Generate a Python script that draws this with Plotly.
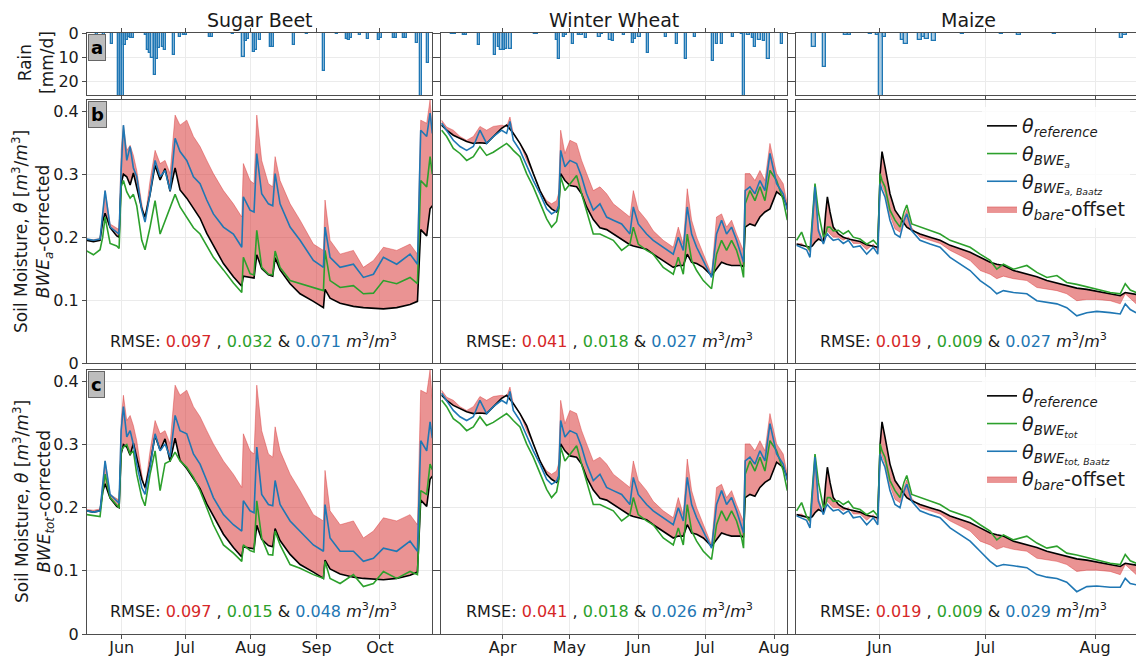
import plotly.graph_objects as go

YR = "2020"

# ---------------- Sugar Beet ----------------
beet_t = ["05-15 11:00","05-18 15:00","05-21 18:00","05-23 00:00","05-24 03:00","05-26 12:00","05-29 15:00","05-30 18:00","05-31 17:00","06-01 19:00",
          "06-03 09:00","06-04 23:00","06-06 12:00","06-08 02:00","06-10 11:00","06-12 00:00","06-14 09:00","06-16 18:00","06-19 03:00","06-21 11:00",
          "06-23 20:00","06-26 05:00","06-28 13:00","07-01 17:00","07-04 21:00","07-08 00:00","07-11 04:00","07-14 07:00","07-19 01:00","07-23 18:00",
          "07-27 17:00","07-28 11:00","07-31 15:00","08-02 12:00","08-03 19:00","08-06 03:00","08-09 07:00","08-11 08:00","08-12 11:00","08-14 19:00",
          "08-19 13:00","08-24 06:00","08-30 13:00","09-04 07:00","09-05 01:00","09-07 10:00","09-12 04:00","09-18 11:00","09-23 04:00","09-27 22:00",
          "10-02 15:00","10-08 22:00","10-15 05:00","10-18 17:00","10-20 06:00","10-23 02:00","10-24 16:00","10-25 18:00"]
beet_ref = [0.195,0.193,0.195,0.225,0.238,0.215,0.202,0.200,0.285,0.300,
            0.296,0.283,0.302,0.278,0.245,0.232,0.268,0.314,0.291,0.309,
            0.273,0.310,0.275,0.262,0.246,0.230,0.206,0.186,0.158,0.137,
            0.122,0.138,0.136,0.135,0.172,0.150,0.140,0.138,0.167,0.148,
            0.126,0.110,0.098,0.088,0.117,0.103,0.095,0.090,0.088,0.087,
            0.086,0.088,0.093,0.098,0.212,0.202,0.245,0.250]
beet_green_a = [0.178,0.172,0.180,0.200,0.232,0.190,0.186,0.182,0.280,0.290,
                0.272,0.262,0.268,0.250,0.195,0.180,0.216,0.258,0.205,0.225,
                0.245,0.268,0.248,0.232,0.215,0.205,0.186,0.168,0.148,0.127,
                0.112,0.168,0.142,0.140,0.211,0.152,0.141,0.140,0.178,0.152,
                0.131,0.126,0.120,0.115,0.179,0.131,0.120,0.123,0.110,0.111,
                0.131,0.126,0.136,0.126,0.290,0.280,0.328,0.300]
beet_blue_a = [0.197,0.195,0.197,0.240,0.274,0.216,0.207,0.205,0.306,0.378,
               0.322,0.344,0.310,0.296,0.243,0.224,0.269,0.322,0.296,0.306,
               0.274,0.357,0.336,0.322,0.296,0.285,0.259,0.237,0.216,0.205,
               0.184,0.264,0.243,0.240,0.333,0.269,0.253,0.250,0.301,0.253,
               0.216,0.195,0.163,0.152,0.216,0.168,0.152,0.157,0.136,0.141,
               0.168,0.157,0.173,0.157,0.370,0.360,0.397,0.365]
beet_bare = [0.197,0.196,0.198,0.245,0.274,0.221,0.215,0.212,0.338,0.378,
             0.338,0.346,0.330,0.306,0.253,0.229,0.290,0.338,0.317,0.322,
             0.301,0.394,0.378,0.386,0.360,0.344,0.322,0.301,0.274,0.253,
             0.232,0.317,0.290,0.285,0.394,0.322,0.285,0.280,0.328,0.290,
             0.253,0.227,0.189,0.179,0.259,0.195,0.173,0.179,0.152,0.163,
             0.184,0.179,0.189,0.173,0.386,0.381,0.418,0.370]
beet_green_tot = [0.189,0.187,0.186,0.225,0.253,0.216,0.205,0.200,0.290,0.296,
                  0.300,0.285,0.290,0.253,0.216,0.203,0.253,0.290,0.227,0.270,
                  0.274,0.288,0.274,0.264,0.248,0.227,0.200,0.173,0.141,0.128,
                  0.115,0.141,0.132,0.130,0.211,0.152,0.126,0.125,0.163,0.141,
                  0.110,0.104,0.094,0.088,0.115,0.088,0.080,0.094,0.075,0.080,
                  0.099,0.088,0.099,0.094,0.227,0.221,0.269,0.260]
beet_blue_tot = [0.195,0.193,0.195,0.240,0.274,0.221,0.210,0.207,0.322,0.360,
                 0.312,0.322,0.300,0.269,0.232,0.221,0.264,0.317,0.290,0.301,
                 0.280,0.346,0.322,0.317,0.285,0.269,0.243,0.216,0.189,0.173,
                 0.163,0.211,0.195,0.192,0.296,0.221,0.205,0.203,0.243,0.205,
                 0.179,0.163,0.141,0.131,0.205,0.152,0.131,0.131,0.115,0.120,
                 0.136,0.131,0.147,0.131,0.306,0.290,0.336,0.310]
beet_rain_day = ["05-20","05-23","05-27","05-30","05-31","06-01","06-02","06-03","06-04","06-05","06-06",
                 "06-12","06-13","06-14","06-15","06-16","06-17","06-18","06-20","06-21","06-25","06-28","06-30","07-01",
                 "07-12","07-13","07-23","07-28","07-29","07-30","08-02","08-03","08-05","08-10","08-11","08-21","08-27",
                 "09-04","09-10","09-15","09-16","09-17","09-21","09-25","09-30","10-01","10-07","10-08","10-12","10-13",
                 "10-18","10-20","10-23"]
beet_rain = [1.0,4.3,4.6,30,30,30,5,3,1.8,2.2,2,
             1,7,8.5,10.5,17.5,11,6.4,6,7,9,1.5,1,1,
             1.5,1.5,0.5,10,3.5,2.5,7.8,7,3,5.7,5.7,5,0.5,
             15.7,0.5,2.5,3,2,1,2.5,3,2,2,2,2,2,
             4.3,30,12.6]

# ---------------- Winter Wheat ----------------
wheat_t = ["03-04 14:00","03-06 20:00","03-09 20:00","03-12 20:00","03-15 20:00","03-18 20:00","03-21 19:00","03-24 19:00","03-27 19:00","03-31 13:00",
           "04-02 19:00","04-04 07:00","04-05 19:00","04-08 19:00","04-11 19:00","04-14 19:00","04-17 19:00","04-20 19:00","04-23 00:00","04-25 06:00",
           "04-26 04:00","04-27 02:00","04-29 00:00","05-01 06:00","05-04 06:00","05-06 12:00","05-08 18:00","05-11 18:00","05-14 18:00","05-17 18:00",
           "05-20 18:00","05-24 12:00","05-28 05:00","05-29 18:00","05-31 23:00","06-04 17:00","06-07 17:00","06-12 05:00","06-16 17:00","06-18 23:00",
           "06-21 05:00","06-23 00:00","06-24 23:00","06-27 05:00","06-30 05:00","07-03 22:00","07-06 04:00","07-08 10:00","07-10 16:00","07-12 22:00",
           "07-15 04:00","07-17 10:00","07-18 07:00","07-19 01:00","07-21 04:00","07-23 10:00","07-25 16:00","07-27 22:00","07-30 04:00","08-02 04:00",
           "08-05 03:00","08-06 23:00"]
wheat_ref = [0.378,0.370,0.362,0.357,0.352,0.349,0.350,0.349,0.360,0.373,
             0.378,0.372,0.365,0.349,0.330,0.301,0.274,0.253,0.245,0.240,
             0.245,0.301,0.290,0.282,0.280,0.269,0.248,0.228,0.215,0.212,
             0.205,0.196,0.188,0.186,0.184,0.181,0.173,0.163,0.152,0.155,
             0.155,0.173,0.160,0.158,0.152,0.139,0.150,0.160,0.157,0.155,
             0.155,0.155,0.153,0.216,0.221,0.218,0.232,0.240,0.245,0.272,
             0.264,0.248]
wheat_green_a = [0.370,0.360,0.341,0.333,0.322,0.328,0.344,0.330,0.335,0.344,
                 0.349,0.344,0.338,0.328,0.301,0.280,0.253,0.229,0.216,0.225,
                 0.243,0.296,0.274,0.285,0.298,0.269,0.243,0.205,0.205,0.200,
                 0.195,0.179,0.189,0.216,0.189,0.179,0.173,0.152,0.141,0.168,
                 0.141,0.205,0.163,0.147,0.131,0.118,0.173,0.195,0.179,0.195,
                 0.179,0.152,0.136,0.253,0.274,0.258,0.280,0.258,0.306,0.290,
                 0.259,0.227]
wheat_blue_a = [0.381,0.370,0.354,0.344,0.338,0.344,0.370,0.349,0.360,0.370,
                0.365,0.384,0.354,0.338,0.314,0.290,0.269,0.245,0.237,0.242,
                0.250,0.338,0.312,0.322,0.317,0.296,0.269,0.243,0.253,0.232,
                0.227,0.221,0.205,0.248,0.221,0.205,0.195,0.184,0.173,0.200,
                0.179,0.248,0.205,0.184,0.163,0.136,0.205,0.227,0.205,0.216,
                0.195,0.168,0.160,0.274,0.280,0.269,0.290,0.274,0.333,0.285,
                0.269,0.243]
wheat_bare = [0.386,0.375,0.370,0.360,0.354,0.360,0.376,0.370,0.376,0.378,
              0.376,0.391,0.365,0.349,0.322,0.301,0.274,0.258,0.253,0.258,
              0.270,0.370,0.333,0.354,0.349,0.322,0.301,0.274,0.280,0.269,
              0.253,0.243,0.232,0.274,0.243,0.227,0.210,0.195,0.184,0.216,
              0.189,0.277,0.227,0.200,0.173,0.141,0.232,0.237,0.216,0.227,
              0.205,0.184,0.178,0.301,0.301,0.290,0.306,0.290,0.349,0.301,
              0.285,0.253]
wheat_green_tot = [0.370,0.360,0.341,0.333,0.322,0.328,0.344,0.330,0.335,0.344,
                   0.349,0.344,0.338,0.328,0.301,0.280,0.253,0.229,0.216,0.225,
                   0.243,0.296,0.274,0.285,0.298,0.269,0.243,0.205,0.205,0.200,
                   0.195,0.179,0.189,0.216,0.189,0.179,0.173,0.152,0.141,0.168,
                   0.141,0.205,0.163,0.147,0.131,0.118,0.173,0.195,0.179,0.195,
                   0.179,0.152,0.136,0.253,0.274,0.258,0.280,0.258,0.306,0.290,
                   0.259,0.227]
wheat_blue_tot = [0.381,0.370,0.354,0.344,0.338,0.344,0.370,0.349,0.360,0.370,
                  0.365,0.384,0.354,0.338,0.314,0.290,0.269,0.245,0.237,0.242,
                  0.250,0.338,0.312,0.322,0.317,0.296,0.269,0.243,0.253,0.232,
                  0.227,0.221,0.205,0.248,0.221,0.205,0.195,0.184,0.173,0.200,
                  0.179,0.248,0.205,0.184,0.163,0.136,0.205,0.227,0.205,0.216,
                  0.195,0.168,0.160,0.274,0.280,0.269,0.290,0.274,0.333,0.285,
                  0.269,0.243]
wheat_rain_day = ["03-09","03-10","03-14","03-15","03-21","03-28","03-30","03-31","04-01","04-02","04-04",
                  "04-15","04-16","04-25","04-26","04-28","04-29","05-02","05-05","05-06","05-08","05-14","05-15",
                  "05-19","05-20","05-25","05-29","05-30","06-01","06-05","06-13","06-18","06-22","06-26",
                  "07-04","07-06","07-08","07-13","07-17","07-18","07-20","07-22","07-23","07-25","07-27","07-29","08-04"]
wheat_rain = [0.5,0.5,1,1,5,9,6,7,7,6.5,6.5,
              0.3,0.3,3,11,1.5,1,4.5,1,1,2,1.5,0.5,
              3,3.5,1,4,2.5,1.5,8.5,1.5,4.5,11,1.5,
              11.5,4.5,4.5,1.5,0.5,30,1,2,6,3,3.5,11,4.5]

# ---------------- Maize ----------------
maize_t = ["05-08 14:00","05-10 00:00","05-11 10:00","05-12 09:00","05-13 01:00","05-13 19:00","05-14 18:00","05-16 04:00","05-16 19:00","05-17 07:00",
           "05-18 01:00","05-18 23:00","05-20 10:00","05-21 19:00","05-23 06:00","05-24 15:00","05-26 13:00","05-28 10:00","05-30 07:00","05-31 13:00",
           "06-01 05:00","06-01 18:00","06-02 14:00","06-04 00:00","06-05 10:00","06-06 20:00","06-07 23:00","06-08 18:00","06-10 04:00","06-12 12:00",
           "06-15 08:00","06-18 04:00","06-21 00:00","06-23 20:00","06-26 16:00","06-29 12:00","07-02 08:00","07-04 05:00","07-06 02:00","07-08 22:00",
           "07-12 17:00","07-15 13:00","07-18 09:00","07-21 05:00","07-24 00:00","07-26 20:00","07-29 16:00","08-01 12:00","08-05 07:00","08-08 03:00",
           "08-09 13:00","08-10 23:00","08-12 15:00"]
maize_ref = [0.189,0.187,0.186,0.184,0.186,0.192,0.197,0.193,0.237,0.264,
             0.240,0.216,0.205,0.200,0.197,0.195,0.193,0.188,0.186,0.184,
             0.300,0.336,0.312,0.269,0.243,0.232,0.222,0.216,0.211,0.205,
             0.200,0.195,0.187,0.181,0.176,0.168,0.160,0.157,0.155,0.147,
             0.141,0.137,0.131,0.127,0.123,0.119,0.117,0.114,0.111,0.107,
             0.112,0.111,0.109]
maize_green_a = [0.195,0.208,0.186,0.179,0.230,0.285,0.240,0.200,0.205,0.216,
                 0.216,0.210,0.211,0.205,0.210,0.200,0.197,0.189,0.195,0.187,
                 0.301,0.290,0.280,0.243,0.227,0.216,0.240,0.251,0.221,0.216,
                 0.211,0.205,0.195,0.189,0.184,0.173,0.163,0.149,0.157,0.149,
                 0.155,0.144,0.136,0.139,0.128,0.125,0.121,0.118,0.112,0.110,
                 0.126,0.116,0.112]
maize_blue_a = [0.187,0.184,0.180,0.168,0.220,0.280,0.210,0.189,0.200,0.205,
                0.200,0.195,0.197,0.190,0.195,0.184,0.186,0.173,0.184,0.173,
                0.285,0.275,0.264,0.227,0.205,0.200,0.226,0.237,0.210,0.195,
                0.189,0.184,0.168,0.157,0.147,0.131,0.120,0.110,0.115,0.112,
                0.110,0.099,0.097,0.094,0.088,0.075,0.080,0.082,0.080,0.078,
                0.094,0.085,0.080]
maize_bare = [0.189,0.190,0.184,0.176,0.225,0.282,0.215,0.192,0.202,0.210,
              0.205,0.200,0.200,0.195,0.200,0.190,0.190,0.180,0.189,0.178,
              0.296,0.282,0.270,0.235,0.213,0.208,0.232,0.244,0.215,0.200,
              0.195,0.190,0.179,0.171,0.163,0.147,0.141,0.134,0.138,0.134,
              0.131,0.120,0.117,0.115,0.110,0.099,0.101,0.101,0.099,0.094,
              0.110,0.103,0.094]
maize_green_tot = [0.195,0.208,0.186,0.179,0.230,0.285,0.240,0.200,0.205,0.216,
                   0.216,0.210,0.211,0.205,0.210,0.200,0.197,0.189,0.195,0.187,
                   0.301,0.290,0.280,0.243,0.227,0.216,0.240,0.251,0.221,0.216,
                   0.211,0.205,0.195,0.189,0.184,0.173,0.163,0.149,0.157,0.149,
                   0.155,0.144,0.136,0.139,0.128,0.125,0.121,0.118,0.112,0.110,
                   0.126,0.116,0.112]
maize_blue_tot = [0.187,0.184,0.180,0.168,0.220,0.280,0.210,0.189,0.200,0.205,
                  0.200,0.195,0.197,0.190,0.195,0.184,0.186,0.173,0.184,0.173,
                  0.285,0.275,0.264,0.227,0.205,0.200,0.226,0.237,0.210,0.195,
                  0.189,0.184,0.168,0.157,0.147,0.131,0.115,0.107,0.110,0.108,
                  0.105,0.094,0.090,0.088,0.082,0.067,0.075,0.076,0.074,0.074,
                  0.088,0.080,0.078]
maize_rain_day = ["05-13","05-16","05-22","05-23","05-29","05-31","06-01","06-02","06-07","06-08",
                  "06-12","06-13","06-14","06-16","06-24","07-05","07-10","07-20","08-08","08-09"]
maize_rain = [6,14,1,0.7,0.5,0.8,30,1.5,3,4.5,3,1.5,2.5,3.5,0.5,0.5,1,0.5,2,1]

crop_names = ["Sugar Beet", "Winter Wheat", "Maize"]
rmse_b = [("0.097", "0.032", "0.071"), ("0.041", "0.018", "0.027"), ("0.019", "0.009", "0.027")]
rmse_c = [("0.097", "0.015", "0.048"), ("0.041", "0.018", "0.026"), ("0.019", "0.009", "0.029")]
x_ranges = [("05-15 14:00", "10-25 14:00"), ("03-04 07:00", "08-06 20:00"), ("05-08 10:00", "08-12 14:00")]
rain_ticks = [0, 10, 20]
sm_ticks = [0, 0.1, 0.2, 0.3, 0.4]
sm_ticktext = ["0", "0.1", "0.2", "0.3", "0.4"]

# ---------------- figure ----------------
W, H = 1136, 658
COL_PX = [(87, 432), (441, 787), (796, 1136)]
ROW_PX = [(33, 95), (100, 363), (370, 634)]
FONT = "DejaVu Sans"
TXT = "#1a1a1a"
RED, GREEN, BLUE = "#d62728", "#2ca02c", "#1f77b4"
FILL = "rgba(214,39,40,0.5)"
FRAME = "#4d4d4d"
GRID = "#ebebeb"


def d(lst, suffix=""):
    return [f"{YR}-{s}{suffix}" for s in lst]


def ids(r, c):
    i = r * 3 + c + 1
    return ("x" if i == 1 else f"x{i}"), ("y" if i == 1 else f"y{i}")


crops = [
    dict(t=beet_t, ref=beet_ref, bare=beet_bare, ga=beet_green_a, ba=beet_blue_a,
         gt=beet_green_tot, bt=beet_blue_tot, rd=beet_rain_day, rv=beet_rain),
    dict(t=wheat_t, ref=wheat_ref, bare=wheat_bare, ga=wheat_green_a, ba=wheat_blue_a,
         gt=wheat_green_tot, bt=wheat_blue_tot, rd=wheat_rain_day, rv=wheat_rain),
    dict(t=maize_t, ref=maize_ref, bare=maize_bare, ga=maize_green_a, ba=maize_blue_a,
         gt=maize_green_tot, bt=maize_blue_tot, rd=maize_rain_day, rv=maize_rain),
]

names_b = ["<i>θ<sub>reference</sub></i>", "<i>θ<sub>BWE<sub>a</sub></sub></i>",
           "<i>θ<sub>BWE<sub>a, Baatz</sub></sub></i>", "<i>θ<sub>bare</sub></i>-offset"]
names_c = ["<i>θ<sub>reference</sub></i>", "<i>θ<sub>BWE<sub>tot</sub></sub></i>",
           "<i>θ<sub>BWE<sub>tot, Baatz</sub></sub></i>", "<i>θ<sub>bare</sub></i>-offset"]

fig = go.Figure()

for c, cr in enumerate(crops):
    xa, ya = ids(0, c)
    fig.add_trace(go.Bar(x=d(cr["rd"], " 12:00"), y=cr["rv"], width=86400000,
                         marker=dict(color="rgba(31,119,180,0.38)", line=dict(color=BLUE, width=1.3)),
                         xaxis=xa, yaxis=ya, showlegend=False, hoverinfo="skip"))
    t = d(cr["t"])
    for r, (g, b, names, leg) in [(1, (cr["ga"], cr["ba"], names_b, "legend")),
                                   (2, (cr["gt"], cr["bt"], names_c, "legend2"))]:
        xa, ya = ids(r, c)
        show = (c == 2)
        fig.add_trace(go.Scatter(x=t, y=cr["ref"], mode="lines", line=dict(width=0, color=FILL),
                                 xaxis=xa, yaxis=ya, showlegend=False, hoverinfo="skip"))
        fig.add_trace(go.Scatter(x=t, y=cr["bare"], mode="lines", fill="tonexty", fillcolor=FILL,
                                 line=dict(width=0.8, color=FILL), name=names[3], legend=leg,
                                 legendrank=4, showlegend=show, xaxis=xa, yaxis=ya))
        fig.add_trace(go.Scatter(x=t, y=cr["ref"], mode="lines", line=dict(width=1.6, color="black"),
                                 name=names[0], legend=leg, legendrank=1, showlegend=show, xaxis=xa, yaxis=ya))
        fig.add_trace(go.Scatter(x=t, y=g, mode="lines", line=dict(width=1.6, color=GREEN),
                                 name=names[1], legend=leg, legendrank=2, showlegend=show, xaxis=xa, yaxis=ya))
        fig.add_trace(go.Scatter(x=t, y=b, mode="lines", line=dict(width=1.6, color=BLUE),
                                 name=names[2], legend=leg, legendrank=3, showlegend=show, xaxis=xa, yaxis=ya))

layout = dict(width=W, height=H, margin=dict(l=0, r=0, t=0, b=0), paper_bgcolor="white",
              plot_bgcolor="white", font=dict(family=FONT, color=TXT, size=16), barmode="overlay",
              bargap=0)

for r in range(3):
    for c in range(3):
        i = r * 3 + c + 1
        xa, ya = ids(r, c)
        xkey = "xaxis" if i == 1 else f"xaxis{i}"
        ykey = "yaxis" if i == 1 else f"yaxis{i}"
        x0, x1 = COL_PX[c]
        y0, y1 = ROW_PX[r]
        layout[xkey] = dict(domain=[x0 / W, x1 / W], anchor=ya, type="date",
                            range=[f"{YR}-{x_ranges[c][0]}", f"{YR}-{x_ranges[c][1]}"],
                            tick0=f"{YR}-01-01", dtick="M1", tickformat="%b",
                            showticklabels=(r == 2), ticks="outside", ticklen=4, tickcolor=FRAME,
                            showline=True, linecolor=FRAME, linewidth=1, mirror="allticks",
                            showgrid=True, gridcolor=GRID, zeroline=False, ticklabelstandoff=-5,
                            tickfont=dict(size=16, family=FONT, color=TXT), automargin=False)
        ydict = dict(domain=[1 - y1 / H, 1 - y0 / H], anchor=xa, ticks="outside", ticklen=4,
                     tickcolor=FRAME, showline=True, linecolor=FRAME, linewidth=1,
                     mirror=("allticks" if c < 2 else False), showgrid=True, gridcolor=GRID,
                     zeroline=False, showticklabels=(c == 0),
                     tickfont=dict(size=16, family=FONT, color=TXT), automargin=False)
        if r == 0:
            ydict.update(range=[25.8, 0], tickvals=rain_ticks)
        else:
            ydict.update(range=[0, 0.418], tickvals=sm_ticks, ticktext=sm_ticktext)
        layout[ykey] = ydict

leg_common = dict(xanchor="left", yanchor="top", bgcolor="rgba(255,255,255,0.8)", borderwidth=0,
                  font=dict(size=19, family=FONT, color=TXT), tracegroupgap=2, itemwidth=30,
                  traceorder="normal")
layout["legend"] = dict(x=982 / W, y=1 - 107 / H, **leg_common)
layout["legend2"] = dict(x=982 / W, y=1 - 377 / H, **leg_common)

ann = []
for c, name in enumerate(crop_names):
    x0, x1 = COL_PX[c]
    cx = (x0 + x1) / 2 if c < 2 else 968
    ann.append(dict(text=name, x=cx / W, y=1 - 20 / H, xref="paper", yref="paper", showarrow=False,
                    xanchor="center", yanchor="middle", font=dict(size=19, family=FONT, color=TXT)))


def rmse_text(v):
    return (f"RMSE: <span style='color:{RED}'>{v[0]}</span> , <span style='color:{GREEN}'>{v[1]}</span>"
            f" & <span style='color:{BLUE}'>{v[2]}</span> <i>m</i><sup>3</sup>/<i>m</i><sup>3</sup>")


rmse_cx = [253, 609, 963]
for c in range(3):
    for txt, yy in [(rmse_text(rmse_b[c]), 340), (rmse_text(rmse_c[c]), 610)]:
        ann.append(dict(text=txt, x=rmse_cx[c] / W, y=1 - yy / H, xref="paper", yref="paper",
                        xanchor="center", yanchor="middle", showarrow=False,
                        font=dict(size=16, family=FONT, color=TXT)))

for lab, ytop in [("a", 33), ("b", 100), ("c", 370)]:
    ann.append(dict(text=f"<b>{lab}</b>", x=88 / W, y=1 - (ytop + 1) / H, xref="paper", yref="paper",
                    xanchor="left", yanchor="top", showarrow=False, bgcolor="#bdbdbd",
                    bordercolor="#666666", borderwidth=1, borderpad=2,
                    font=dict(size=18, family=FONT, color="black")))

ann.append(dict(text="Rain<br>[mm/d]", x=36 / W, y=1 - 63 / H, xref="paper", yref="paper", showarrow=False,
                xanchor="center", yanchor="middle", textangle=-90,
                font=dict(size=17, family=FONT, color=TXT)))
ann.append(dict(text="Soil Moisture, <i>θ</i> [<i>m</i><sup>3</sup>/<i>m</i><sup>3</sup>]<br><i>BWE<sub>a</sub></i>-corrected",
                x=33 / W, y=1 - 232 / H, xref="paper", yref="paper", showarrow=False, textangle=-90,
                xanchor="center", yanchor="middle", font=dict(size=17, family=FONT, color=TXT)))
ann.append(dict(text="Soil Moisture, <i>θ</i> [<i>m</i><sup>3</sup>/<i>m</i><sup>3</sup>]<br><i>BWE<sub>tot</sub></i>-corrected",
                x=33 / W, y=1 - 502 / H, xref="paper", yref="paper", showarrow=False, textangle=-90,
                xanchor="center", yanchor="middle", font=dict(size=17, family=FONT, color=TXT)))
layout["annotations"] = ann

fig.update_layout(**layout)
fig.write_html("out.html")
